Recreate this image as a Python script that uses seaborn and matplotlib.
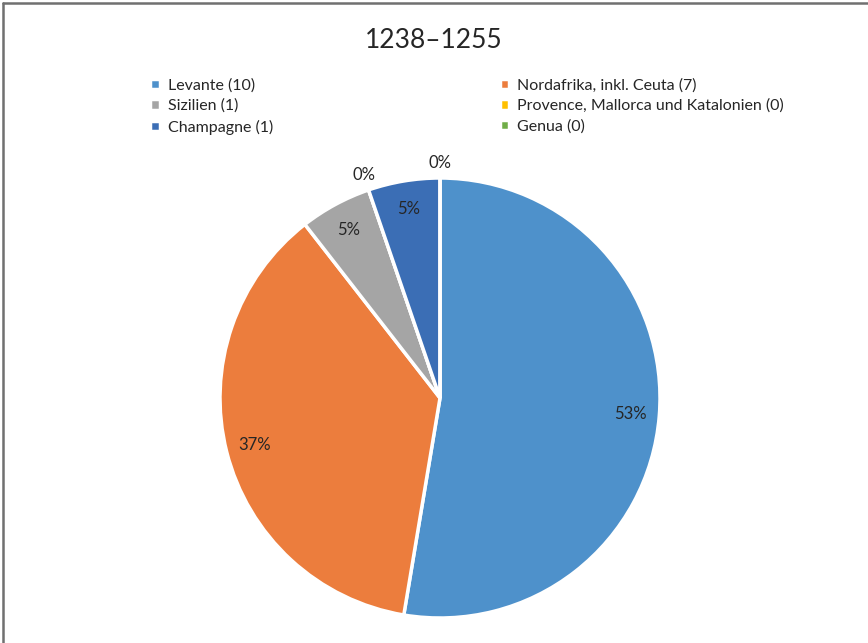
import numpy as np
import matplotlib
matplotlib.use("Agg")
import matplotlib.pyplot as plt
import seaborn as sns

# data
regions = ["Levante", "Nordafrika, inkl. Ceuta", "Sizilien",
           "Provence, Mallorca und Katalonien", "Champagne", "Genua"]
counts = [10, 7, 1, 0, 1, 0]
colors = ["#4E91CB", "#EC7D3D", "#A5A5A5", "#FFC000", "#3B6EB5", "#70AD47"]
title = "1238\u20131255"

sns.set_theme(style="white")
plt.rcParams["font.family"] = ["Lato", "DejaVu Sans"]
txt = "#262626"

W, H = 868, 643
fig = plt.figure(figsize=(W / 100, H / 100), dpi=100)
cx, cy, r = 440, 398, 220
ax = fig.add_axes([(cx - r) / W, (H - cy - r) / H, 2 * r / W, 2 * r / H])

wedges, texts, autotexts = ax.pie(
    counts, colors=sns.color_palette(colors), startangle=90, counterclock=False,
    autopct=lambda p: f"{p:.0f}%", pctdistance=0.87,
    wedgeprops=dict(edgecolor="white", linewidth=2.5),
    textprops=dict(fontsize=12, color=txt))
ax.set_xlim(-1, 1)
ax.set_ylim(-1, 1)
ax.set_aspect("equal")

# zero slices get their label just outside the rim
for w, t, c in zip(wedges, autotexts, counts):
    if c == 0:
        ang = np.deg2rad((w.theta1 + w.theta2) / 2)
        t.set_position((1.07 * np.cos(ang), 1.07 * np.sin(ang)))

fig.text(0.5, (H - 41) / H, title, ha="center", va="center", fontsize=19, color=txt)

# legend filled row by row like the original
labels = [f"{n} ({c})" for n, c in zip(regions, counts)]
order = [0, 2, 4, 1, 3, 5]
leg = fig.legend([wedges[i] for i in order], [labels[i] for i in order],
                 ncol=2, loc="upper left", bbox_to_anchor=(150 / W, (H - 78) / H),
                 frameon=False, fontsize=11.5, handlelength=0.6, handleheight=0.6,
                 handletextpad=0.5, columnspacing=14.2, labelspacing=0.4,
                 borderaxespad=0, borderpad=0)
for t in leg.get_texts():
    t.set_color(txt)

# chart frame, only top and left edges visible
fig.add_artist(plt.Line2D([2.5 / W, 1], [1 - 2.5 / H, 1 - 2.5 / H], color="#707070", lw=1.8))
fig.add_artist(plt.Line2D([2.5 / W, 2.5 / W], [0, 1 - 2.5 / H], color="#707070", lw=1.8))

fig.savefig("out.png", dpi=100)
